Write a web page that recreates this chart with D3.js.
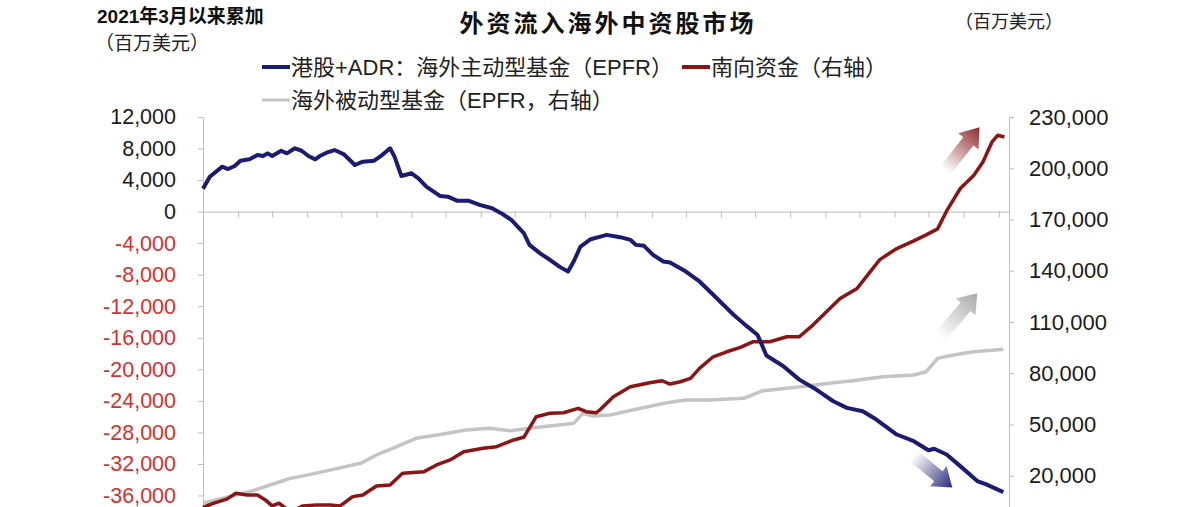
<!DOCTYPE html>
<html>
<head>
<meta charset="utf-8">
<script src="https://cdn.jsdelivr.net/npm/d3@7"></script>
<style>
  body { margin: 0; background: #fff; }
  svg text { font-family: "Liberation Sans", "Noto Sans CJK SC", sans-serif; }
</style>
</head>
<body>
<svg width="1192" height="507"></svg>
<script>
// weeks counted from 2021-03-01
var blueWeeks = [0,0.9,2.4,3.1,4.0,4.7,5.9,6.8,7.6,8.1,8.7,9.9,10.5,11.6,12.4,13.3,14.1,14.7,15.6,16.6,17.7,19.2,20.2,21.5,22.5,23.6,24.2,25.0,26.3,27.1,28.2,29.9,30.9,32.0,33.4,34.9,36.4,37.6,38.9,40.4,41.2,42.5,43.7,45.0,46.0,46.7,47.5,48.8,50.4,50.9,52.5,53.8,54.6,55.5,56.7,58.0,58.8,60.9,62.6,64.7,66.8,68.5,69.8,70.2,71.0,73.1,75.2,77.3,79.4,81.1,83.2,84.9,87.4,89.5,91.4,92.2,93.7,95.4,97.5,98.7,100.8];
var blueVals = [2900,4430,5700,5400,5790,6460,6630,7180,7050,7390,7050,7720,7390,8030,7720,7050,6630,7050,7470,7810,7300,5910,6330,6460,7180,8030,6960,4520,4860,4230,3170,1990,1900,1390,1390,850,430,-200,-1050,-2730,-4220,-5360,-6110,-7040,-7600,-6330,-4430,-3500,-3080,-2950,-3240,-3580,-4220,-4340,-5480,-6330,-6460,-7600,-8860,-10960,-13080,-14560,-15610,-16230,-18250,-19620,-21310,-22570,-24050,-24890,-25310,-26370,-28270,-29120,-30260,-30080,-30800,-32280,-34180,-34600,-35570];

var redWeeks = [0,1.3,3.0,4.2,5.5,6.8,7.8,8.7,9.5,10.5,11.6,12.6,14.3,16.0,17.3,18.9,20.2,21.9,23.6,25.2,27.8,29.4,31.1,32.8,35.3,37.0,39.1,40.4,40.8,42.0,43.7,45.4,47.3,48.3,49.6,50.0,51.7,53.8,56.3,57.8,58.8,60.1,61.4,62.6,64.3,66.0,67.7,69.3,71.4,73.5,75.2,76.9,78.6,80.3,82.4,83.6,85.3,87.4,89.5,91.2,92.5,93.7,95.4,97.1,98.3,99.4,100.2,101.0];
var redVals = [1500,3800,6300,9760,8770,8770,5850,2330,3920,500,0,2330,2910,2910,2330,7780,8770,14030,14620,21460,22400,26310,29240,34100,36080,37030,40940,42520,45790,54560,56550,56900,59470,57480,56900,58490,66240,72090,74440,75610,73680,75020,77010,82860,89640,92570,95150,98420,98420,101340,101340,108190,115970,123800,129650,136430,146500,153000,157500,161000,164500,175000,188130,195910,203690,215380,219300,218300];

var grayWeeks = [0,6.3,11.0,12.2,15.2,19.8,21.9,24.4,26.9,30.3,33.2,36.2,38.7,41.2,43.7,46.7,47.9,49.2,51.3,54.2,58.4,60.9,63.9,68.1,70.6,73.5,76.1,79.4,81.9,85.7,89.5,91.2,92.5,94.6,97.1,100.8];
var grayVals = [3900,11200,18540,19470,22400,27270,32150,37030,41910,44440,46780,47780,46380,47780,49120,50700,56550,54980,55560,58490,62770,64330,64330,65330,69760,71170,72520,74440,75610,78000,79000,80900,88710,90640,92570,93980];

// visible tick labels (the frame ends just below -36,000 / 20,000)
var leftTicks = d3.range(-36000, 12001, 4000);
var rightTicks = d3.range(20000, 230001, 30000);

// trend arrows: [weekFrom, valueFrom, weekTo, valueTo]
var arrowRed = [93.5, 198800, 97.9, 224000];
var arrowGray = [92.9, 101200, 97.5, 126900];
var arrowBlue = [89.5, -31000, 94.4, -35000];

var svg = d3.select("svg");
var start = new Date(2021, 2, 1);
var end = new Date(2023, 1, 10);
var plotTop = 117, plotBottom = 527, plotLeft = 203, plotRight = 1009;

var x = d3.scaleTime().domain([start, end]).range([plotLeft, plotRight]);
var yL = d3.scaleLinear().domain([-40000, 12000]).range([plotBottom, plotTop]);
var yR = d3.scaleLinear().domain([-10000, 230000]).range([plotBottom, plotTop]);

function wk(w) { return d3.timeDay.offset(start, Math.round(w * 7)); }
var fmt = d3.formatLocale({decimal: ".", thousands: ",", grouping: [3], currency: ["", ""], minus: "-"}).format(",");

var axisCol = "#bdbdbd";

// left axis
var gL = svg.append("g").attr("transform", "translate(" + plotLeft + ",0)")
  .call(d3.axisLeft(yL).tickValues(leftTicks).tickSize(5).tickSizeOuter(0).tickPadding(22).tickFormat(fmt));
gL.select(".domain").attr("stroke", axisCol);
gL.selectAll(".tick line").attr("stroke", axisCol);
gL.selectAll(".tick text")
  .attr("font-size", 21.5)
  .attr("fill", d => d < 0 ? "#d9302c" : "#1a1a1a");

// right axis
var gR = svg.append("g").attr("transform", "translate(" + plotRight + ",0)")
  .call(d3.axisRight(yR).tickValues(rightTicks).tickSize(5).tickSizeOuter(0).tickPadding(15).tickFormat(fmt));
gR.select(".domain").attr("stroke", axisCol);
gR.selectAll(".tick line").attr("stroke", axisCol);
gR.selectAll(".tick text").attr("font-size", 22).attr("fill", "#1a1a1a");

// zero line with monthly ticks
var gX = svg.append("g").attr("transform", "translate(0," + yL(0) + ")")
  .call(d3.axisBottom(x).ticks(d3.timeMonth.every(1)).tickSize(6).tickSizeOuter(0).tickFormat(""));
gX.select(".domain").attr("stroke", axisCol);
gX.selectAll(".tick line").attr("stroke", axisCol);

// arrows
var defs = svg.append("defs");
function arrow(spec, scale, col, id) {
  var x0 = x(wk(spec[0])), y0 = scale(spec[1]);
  var x1 = x(wk(spec[2])), y1 = scale(spec[3]);
  var len = Math.hypot(x1 - x0, y1 - y0);
  var ang = Math.atan2(y1 - y0, x1 - x0) * 180 / Math.PI;
  var grad = defs.append("linearGradient").attr("id", id);
  grad.append("stop").attr("offset", "0%").attr("stop-color", col).attr("stop-opacity", 0);
  grad.append("stop").attr("offset", "100%").attr("stop-color", col).attr("stop-opacity", 1);
  var h = 18;
  svg.append("path")
    .attr("transform", "translate(" + x0 + "," + y0 + ") rotate(" + ang + ")")
    .attr("d", "M0,-6.5L" + (len - h) + ",-6.5L" + (len - h) + ",-13L" + len + ",0L" + (len - h) + ",13L" + (len - h) + ",6.5L0,6.5Z")
    .attr("fill", "url(#" + id + ")");
}
arrow(arrowRed, yR, "#8e2b2b", "gRed");
arrow(arrowGray, yR, "#a9a9a9", "gGray");
arrow(arrowBlue, yL, "#2b2b7c", "gBlue");

// lines
var lineL = d3.line().x(d => x(wk(d[0]))).y(d => yL(d[1]));
var lineR = d3.line().x(d => x(wk(d[0]))).y(d => yR(d[1]));

svg.append("path").datum(d3.zip(grayWeeks, grayVals))
  .attr("d", lineR).attr("fill", "none").attr("stroke", "#c4c4c4").attr("stroke-width", 3.5).attr("stroke-linejoin", "round");
svg.append("path").datum(d3.zip(redWeeks, redVals))
  .attr("d", lineR).attr("fill", "none").attr("stroke", "#8b1414").attr("stroke-width", 3.5).attr("stroke-linejoin", "round");
svg.append("path").datum(d3.zip(blueWeeks, blueVals))
  .attr("d", lineL).attr("fill", "none").attr("stroke", "#1b1b72").attr("stroke-width", 4).attr("stroke-linejoin", "round");

// titles
svg.append("text").attr("x", 608).attr("y", 32).attr("text-anchor", "middle")
  .attr("font-size", 24).attr("font-weight", "bold").attr("letter-spacing", 3).attr("fill", "#111")
  .text("外资流入海外中资股市场");
svg.append("text").attr("x", 97).attr("y", 23).attr("font-size", 19).attr("font-weight", "bold").attr("fill", "#111")
  .text("2021年3月以来累加");
svg.append("text").attr("x", 95).attr("y", 50).attr("font-size", 19).attr("fill", "#222")
  .text("（百万美元）");
svg.append("text").attr("x", 955).attr("y", 28).attr("font-size", 18).attr("fill", "#222")
  .text("（百万美元）");

// legend
var legend = [
  {label: "港股+ADR：海外主动型基金（EPFR）", col: "#1b1b72", w: 4, x: 262, y: 67},
  {label: "南向资金（右轴）", col: "#8b1414", w: 4, x: 682, y: 67},
  {label: "海外被动型基金（EPFR，右轴）", col: "#c4c4c4", w: 3, x: 262, y: 100}
];
var lg = svg.append("g").selectAll("g").data(legend).join("g");
lg.append("line").attr("x1", d => d.x).attr("x2", d => d.x + 28).attr("y1", d => d.y).attr("y2", d => d.y)
  .attr("stroke", d => d.col).attr("stroke-width", d => d.w);
lg.append("text").attr("x", d => d.x + 29).attr("y", d => d.y + 8).attr("font-size", 22).attr("fill", "#222")
  .text(d => d.label);
</script>
</body>
</html>
